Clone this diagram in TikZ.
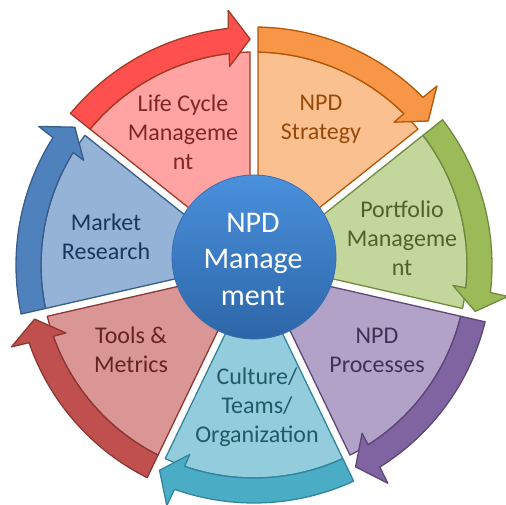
\documentclass[tikz,border=0pt]{standalone}
\usepackage{fontspec}
\setmainfont{Carlito}
\usetikzlibrary{calc}
% light fill / band fill / outline / text
\definecolor{oL}{HTML}{FAC090}\definecolor{oB}{HTML}{F79646}\definecolor{oD}{HTML}{B65708}\definecolor{oT}{HTML}{984807}
\definecolor{gL}{HTML}{C3D69B}\definecolor{gB}{HTML}{9BBB59}\definecolor{gD}{HTML}{71893F}\definecolor{gT}{HTML}{4F6228}
\definecolor{pL}{HTML}{B3A2C7}\definecolor{pB}{HTML}{8064A2}\definecolor{pD}{HTML}{5C4776}\definecolor{pT}{HTML}{3F3151}
\definecolor{tL}{HTML}{93CDDD}\definecolor{tB}{HTML}{4BACC6}\definecolor{tD}{HTML}{31859C}\definecolor{tT}{HTML}{215967}
\definecolor{rL}{HTML}{D99694}\definecolor{rB}{HTML}{C0504D}\definecolor{rD}{HTML}{8C3836}\definecolor{rT}{HTML}{632523}
\definecolor{bL}{HTML}{95B3D7}\definecolor{bB}{HTML}{4F81BD}\definecolor{bD}{HTML}{385D8A}\definecolor{bT}{HTML}{17375E}
\definecolor{lL}{HTML}{FFA3A3}\definecolor{lB}{HTML}{FF5050}\definecolor{lD}{HTML}{A33A22}\definecolor{lT}{HTML}{7A2828}
\definecolor{cTop}{HTML}{4A90DC}\definecolor{cBot}{HTML}{2D66A8}\definecolor{cLine}{HTML}{3A6FB0}
\tikzset{
  wedgeshape/.style={line width=1.3pt, line join=round},
  lbl/.style={font=\fontsize{24}{29}\selectfont, align=center, inner sep=0pt},
  hublbl/.style={font=\fontsize{30}{36.5}\selectfont, align=center, text=white, inner sep=0pt}
}
\begin{document}
\begin{tikzpicture}[x=1pt,y=1pt]
\useasboundingbox (0,0) rectangle (506,505);
\coordinate (C) at (254,240);
\coordinate (O) at (254,248);
\def\Rin{213}\def\Rout{238}
\def\din{1.076}\def\dout{0.963}
\foreach \k/\lt/\bd/\ln in {0/oL/oB/oD,1/gL/gB/gD,2/pL/pB/pD,3/tL/tB/tD,4/rL/rB/rD,5/bL/bB/bD,6/lL/lB/lD}{
  \pgfmathsetmacro\angA{90-\k*360/7}
  \pgfmathsetmacro\angB{\angA-360/7}
  \pgfmathsetmacro\angM{(\angA+\angB)/2}
  \filldraw[wedgeshape, fill=\lt, draw=\ln]
    ($(C)+(\angM:9.2)$) -- ($(C)+({\angA-\din}:\Rin)$)
    arc[start angle={\angA-\din}, end angle={\angB+\din}, radius=\Rin] -- cycle;
  \filldraw[wedgeshape, fill=\bd, draw=\ln]
    ($(C)+({\angA-\din}:\Rin)$) -- ($(C)+({\angA-\dout}:\Rout)$)
    arc[start angle={\angA-\dout}, end angle={\angB+6.2}, radius=\Rout]
    -- ($(C)+({\angB+5.8}:256)$) -- ($(C)+({\angB+1}:226)$)
    -- ($(C)+({\angB+7}:200)$) -- ($(C)+({\angB+6.7}:\Rin)$)
    arc[start angle={\angB+6.7}, end angle={\angA-\din}, radius=\Rin] -- cycle;
}
\shade[top color=cTop, bottom color=cBot, draw=cLine, line width=0.8pt] (O) circle (82);
\node[hublbl] (hub) at (253,246) {NPD\\Manage\\ment};
\node[lbl, text=lT] (life) at (183,373) {Life Cycle\\Manageme\\nt};
\node[lbl, text=oT] (strat) at (321,386) {NPD\\Strategy};
\node[lbl, text=gT] (port) at (402,267) {Portfolio\\Manageme\\nt};
\node[lbl, text=pT] (proc) at (377,155) {NPD\\Processes};
\node[lbl, text=tT] (cult) at (257,98) {Culture/\\Teams/\\Organization};
\node[lbl, text=rT] (tools) at (131,155) {Tools \&\\Metrics};
\node[lbl, text=bT] (market) at (106,268) {Market\\Research};
\end{tikzpicture}
\end{document}
